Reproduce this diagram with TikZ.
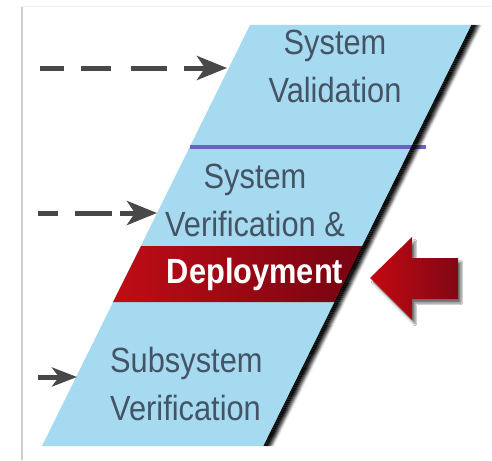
\documentclass[tikz,border=0pt]{standalone}
\usepackage{fontspec}
\newfontfamily\labfont[FakeStretch=0.88]{Liberation Sans}
\usetikzlibrary{arrows.meta,shadows.blur}
\definecolor{skyfill}{RGB}{166,218,240}
\definecolor{txtgray}{RGB}{68,84,100}
\definecolor{dashgray}{RGB}{72,72,72}
\definecolor{bandred1}{RGB}{192,12,22}
\definecolor{bandred2}{RGB}{118,4,18}
\definecolor{arrred1}{RGB}{196,8,18}
\definecolor{arrred2}{RGB}{128,8,20}
\definecolor{purpleline}{RGB}{110,96,200}
\definecolor{framegray}{RGB}{205,205,205}
\definecolor{frametop}{RGB}{238,238,238}
\begin{document}
\begin{tikzpicture}[x=1pt,y=-1pt,
  lab/.style={font=\labfont\fontsize{35}{40}\selectfont, text=txtgray, inner sep=0pt},
  deplab/.style={font=\labfont\bfseries\fontsize{35}{40}\selectfont, text=white, inner sep=0pt},
  dasharrow/.style={draw=dashgray, line width=5pt, -{Stealth[length=30pt,width=24pt,inset=8pt]}},
  smallarrow/.style={draw=dashgray, line width=5pt, -{Stealth[length=25pt,width=19pt,inset=7pt]}},
  framestyle/.style={draw=framegray, line width=1.5pt},
]
\useasboundingbox (0,0) rectangle (492,460);
\fill[white] (0,0) rectangle (492,460);
% frame
\draw[draw=frametop, line width=1pt] (22,7) -- (492,7);
\draw[framestyle] (22,7) -- (22,460);
% main slanted band
\coordinate (A) at (250,25);
\coordinate (B) at (472,25);
\coordinate (C) at (264,446);
\coordinate (D) at (42,446);
\fill[skyfill] (A) -- (B) -- (C) -- (D) -- cycle;
% purple separator
\coordinate (p1) at (190,147);
\coordinate (p2) at (426,147);
\draw[purpleline, line width=3.5pt] (p1) -- (p2);
% red band
\coordinate (r1) at (141,246);
\coordinate (r2) at (363,246);
\coordinate (r3) at (335,302);
\coordinate (r4) at (113,302);
\shade[left color=bandred1, right color=bandred2] (r1) -- (r2) -- (r3) -- (r4) -- cycle;
% shadow along right edge
\foreach \i in {0,1,...,10}{
  \pgfmathsetmacro\op{\i<4 ? 0.95 : max(0.04,0.95-0.14*(\i-3))}
  \draw[black, opacity=\op, line width=1.05pt] ($(B)+(\i,0)$) -- ($(C)+(\i,0)$);
}
% texts
\node[lab, anchor=base] (sysval1) at (335,55) {System};
\node[lab, anchor=base] (sysval2) at (335,102) {Validation};
\node[lab, anchor=base] (sysver1) at (255,188) {System};
\node[lab, anchor=base] (sysver2) at (255,236) {Verification \&};
\node[deplab, anchor=base] (deploy) at (255,283) {Deployment};
\node[lab, anchor=base west] (subver1) at (110,372) {Subsystem};
\node[lab, anchor=base west] (subver2) at (110,420) {Verification};
% dashed arrows
\coordinate (s1) at (40,68);
\coordinate (e1) at (227,68);
\draw[dasharrow, dash pattern=on 24pt off 17pt on 30pt off 20pt on 36pt off 17pt on 200pt] (s1) -- (e1);
\coordinate (s2) at (38,213);
\coordinate (e2) at (157,213);
\draw[dasharrow, dash pattern=on 20pt off 17pt on 37pt off 8pt on 200pt] (s2) -- (e2);
\coordinate (s3) at (38,377);
\coordinate (e3) at (77,377);
\draw[smallarrow] (s3) -- (e3);
% red arrow
\path[left color=arrred1, right color=arrred2,
  blur shadow={shadow xshift=3pt, shadow yshift=-4pt, shadow blur steps=6, shadow opacity=55}]
  (370,278) -- (412,237) -- (412,258) -- (458,258) -- (458,299) -- (412,299) -- (412,320) -- cycle;
\end{tikzpicture}
\end{document}
